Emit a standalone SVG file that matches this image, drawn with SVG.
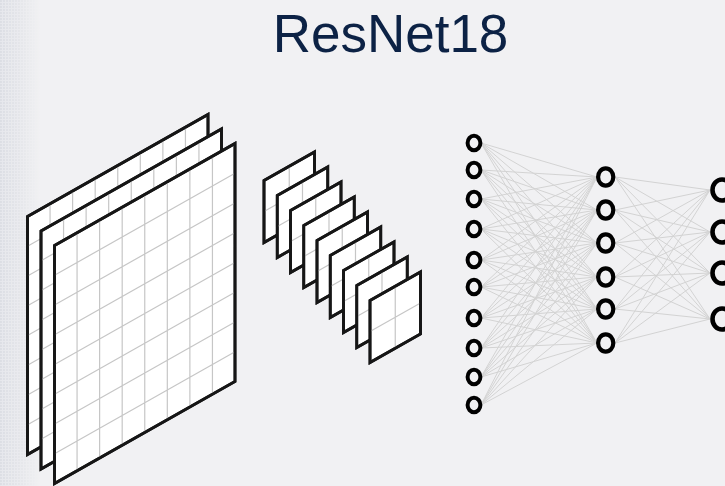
<svg xmlns="http://www.w3.org/2000/svg" width="725" height="486" viewBox="0 0 725 486">
<defs>
<style>
.bg{fill:#f1f1f3}
.sheet{fill:#ffffff;stroke:#161616;stroke-width:2.8;vector-effect:non-scaling-stroke;stroke-linejoin:miter}
.grid{stroke:#c6c6c6;stroke-width:1.2;fill:none;vector-effect:non-scaling-stroke}
.edge{stroke:#d3d3d3;stroke-width:1;fill:none}
.n1{fill:#f1f1f3;stroke:#000;stroke-width:4}
.n2{fill:#f1f1f3;stroke:#000;stroke-width:4.2}
.n3{fill:#f1f1f3;stroke:#000;stroke-width:4.6}
.title{font-family:"Liberation Sans",Arial,sans-serif;font-size:53px;fill:#0c2245}
</style>
<pattern id="tex" width="3" height="3" patternUnits="userSpaceOnUse">
<rect width="3" height="3" fill="#e6e7ec"/>
<rect width="2" height="2" fill="#dcdee4"/>
</pattern>
<linearGradient id="fade" x1="0" y1="0" x2="1" y2="0">
<stop offset="0" stop-color="#fff" stop-opacity="1"/>
<stop offset="0.5" stop-color="#fff" stop-opacity="0.6"/>
<stop offset="1" stop-color="#fff" stop-opacity="0"/>
</linearGradient>
<mask id="fm"><rect x="0" y="0" width="40" height="486" fill="url(#fade)"/></mask>
<g id="big">
<rect class="sheet" x="0" y="0" width="180.5" height="238"/>
<path class="grid" d="M22.56 0V238M45.12 0V238M67.69 0V238M90.25 0V238M112.81 0V238M135.37 0V238M157.94 0V238M0 29.75H180.5M0 59.5H180.5M0 89.25H180.5M0 119H180.5M0 148.75H180.5M0 178.5H180.5M0 208.25H180.5"/>
<rect class="sheet" x="0" y="0" width="180.5" height="238" style="fill:none"/>
</g>
<g id="small">
<rect class="sheet" x="0" y="0" width="50.5" height="62"/>
<path class="grid" d="M25.25 0V62M0 31H50.5"/>
<rect class="sheet" x="0" y="0" width="50.5" height="62" style="fill:none"/>
</g>
</defs>
<rect class="bg" x="0" y="0" width="725" height="486"/>
<rect x="0" y="0" width="40" height="486" fill="url(#tex)" mask="url(#fm)"/>
<text class="title" x="390.5" y="52" text-anchor="middle">ResNet18</text>
<g id="input-maps">
<g id="map1"><use href="#big" transform="translate(27.5,216.5) skewY(-29.47)"/></g>
<g id="map2"><use href="#big" transform="translate(41,231) skewY(-29.47)"/></g>
<g id="map3"><use href="#big" transform="translate(54.5,245.5) skewY(-29.47)"/></g>
</g>
<g id="feature-maps">
<g id="fm1"><use href="#small" transform="translate(264,180.5) skewY(-29.47)"/></g>
<g id="fm2"><use href="#small" transform="translate(277.25,195.5) skewY(-29.47)"/></g>
<g id="fm3"><use href="#small" transform="translate(290.5,210.5) skewY(-29.47)"/></g>
<g id="fm4"><use href="#small" transform="translate(303.75,225.5) skewY(-29.47)"/></g>
<g id="fm5"><use href="#small" transform="translate(317,240.5) skewY(-29.47)"/></g>
<g id="fm6"><use href="#small" transform="translate(330.25,255.5) skewY(-29.47)"/></g>
<g id="fm7"><use href="#small" transform="translate(343.5,270.5) skewY(-29.47)"/></g>
<g id="fm8"><use href="#small" transform="translate(356.75,285.5) skewY(-29.47)"/></g>
<g id="fm9"><use href="#small" transform="translate(370,300.5) skewY(-29.47)"/></g>
</g>
<g id="connectors" class="edge">
<path d="M481 143L597 177M481 143L597 210M481 143L597 243M481 143L597 277M481 143L597 309M481 143L597 343
M481 170L597 177M481 170L597 210M481 170L597 243M481 170L597 277M481 170L597 309M481 170L597 343
M481 199L597 177M481 199L597 210M481 199L597 243M481 199L597 277M481 199L597 309M481 199L597 343
M481 229L597 177M481 229L597 210M481 229L597 243M481 229L597 277M481 229L597 309M481 229L597 343
M481 260L597 177M481 260L597 210M481 260L597 243M481 260L597 277M481 260L597 309M481 260L597 343
M481 287L597 177M481 287L597 210M481 287L597 243M481 287L597 277M481 287L597 309M481 287L597 343
M481 318L597 177M481 318L597 210M481 318L597 243M481 318L597 277M481 318L597 309M481 318L597 343
M481 348L597 177M481 348L597 210M481 348L597 243M481 348L597 277M481 348L597 309M481 348L597 343
M481 377L597 177M481 377L597 210M481 377L597 243M481 377L597 277M481 377L597 309M481 377L597 343
M481 405L597 177M481 405L597 210M481 405L597 243M481 405L597 277M481 405L597 309M481 405L597 343
M615 177L710 190M615 177L710 232M615 177L710 273M615 177L710 319
M615 210L710 190M615 210L710 232M615 210L710 273M615 210L710 319
M615 243L710 190M615 243L710 232M615 243L710 273M615 243L710 319
M615 277L710 190M615 277L710 232M615 277L710 273M615 277L710 319
M615 309L710 190M615 309L710 232M615 309L710 273M615 309L710 319
M615 343L710 190M615 343L710 232M615 343L710 273M615 343L710 319"/>
</g>
<g id="layer1">
<g id="a1"><ellipse class="n1" cx="474" cy="143" rx="6.4" ry="7.2"/></g>
<g id="a2"><ellipse class="n1" cx="474" cy="170" rx="6.4" ry="7.2"/></g>
<g id="a3"><ellipse class="n1" cx="474" cy="199" rx="6.4" ry="7.2"/></g>
<g id="a4"><ellipse class="n1" cx="474" cy="229" rx="6.4" ry="7.2"/></g>
<g id="a5"><ellipse class="n1" cx="474" cy="260" rx="6.4" ry="7.2"/></g>
<g id="a6"><ellipse class="n1" cx="474" cy="287" rx="6.4" ry="7.2"/></g>
<g id="a7"><ellipse class="n1" cx="474" cy="318" rx="6.4" ry="7.2"/></g>
<g id="a8"><ellipse class="n1" cx="474" cy="348" rx="6.4" ry="7.2"/></g>
<g id="a9"><ellipse class="n1" cx="474" cy="377" rx="6.4" ry="7.2"/></g>
<g id="a10"><ellipse class="n1" cx="474" cy="405" rx="6.4" ry="7.2"/></g>
</g>
<g id="layer2">
<g id="b1"><ellipse class="n2" cx="605.7" cy="177" rx="7.6" ry="8.6"/></g>
<g id="b2"><ellipse class="n2" cx="605.7" cy="210" rx="7.6" ry="8.6"/></g>
<g id="b3"><ellipse class="n2" cx="605.7" cy="243" rx="7.6" ry="8.6"/></g>
<g id="b4"><ellipse class="n2" cx="605.7" cy="277" rx="7.6" ry="8.6"/></g>
<g id="b5"><ellipse class="n2" cx="605.7" cy="309" rx="7.6" ry="8.6"/></g>
<g id="b6"><ellipse class="n2" cx="605.7" cy="343" rx="7.6" ry="8.6"/></g>
</g>
<g id="layer3">
<g id="c1"><ellipse class="n3" cx="722" cy="190" rx="9.5" ry="10.5"/></g>
<g id="c2"><ellipse class="n3" cx="722" cy="232" rx="9.5" ry="10.5"/></g>
<g id="c3"><ellipse class="n3" cx="722" cy="273" rx="9.5" ry="10.5"/></g>
<g id="c4"><ellipse class="n3" cx="722" cy="319" rx="9.5" ry="10.5"/></g>
</g>
</svg>
